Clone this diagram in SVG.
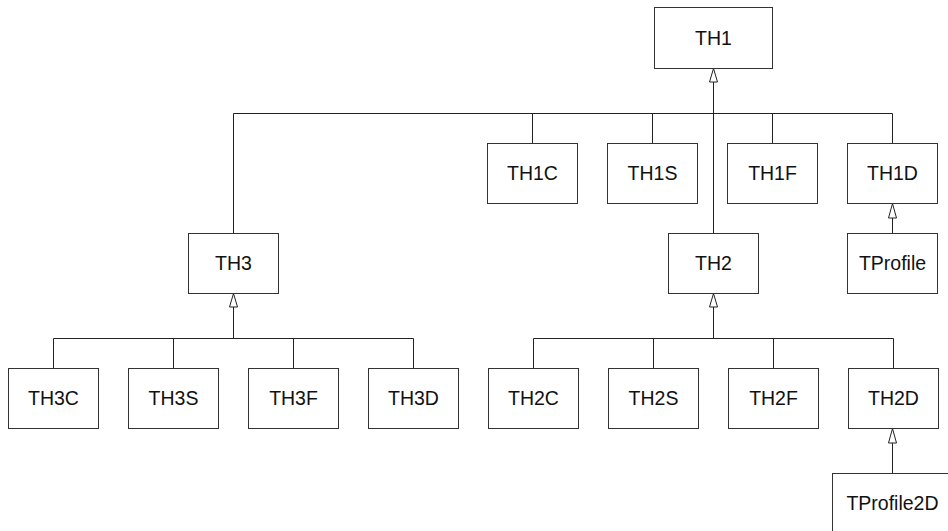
<svg xmlns="http://www.w3.org/2000/svg" width="948" height="531" viewBox="0 0 948 531">
<style>
.box{fill:#fff;stroke:#333;stroke-width:1}
.lbl{font-family:"Liberation Sans",Arial,sans-serif;font-size:19.5px;fill:#111;text-anchor:middle}
.ln{fill:none;stroke:#222;stroke-width:1}
.ah{fill:#fff;stroke:#222;stroke-width:1}
</style>
<rect width="948" height="531" fill="#fff"/>
<g id="connectors">
<path class="ln" d="M233.5 233V113.5H892.5V143"/>
<path class="ln" d="M532.5 113.5V143M652.5 113.5V143M772.5 113.5V143"/>
<path class="ln" d="M713.5 82V233"/>
<path class="ln" d="M892.5 218V233"/>
<path class="ln" d="M233.5 307V338.5M53.5 368V338.5H413.5V368M173.5 338.5V368M293.5 338.5V368"/>
<path class="ln" d="M713.5 307V338.5M533.5 368V338.5H893.5V368M653.5 338.5V368M773.5 338.5V368"/>
<path class="ln" d="M892.5 443V473"/>
<polygon class="ah" points="713.5,68.5 709.5,82 717.5,82"/>
<polygon class="ah" points="892.5,203.5 888.5,218 896.5,218"/>
<polygon class="ah" points="233.5,293.5 229.5,307 237.5,307"/>
<polygon class="ah" points="713.5,293.5 709.5,307 717.5,307"/>
<polygon class="ah" points="892.5,428.5 888.5,443 896.5,443"/>
</g>
<g id="TH1"><rect class="box" x="654.5" y="7.5" width="118" height="61"/><text class="lbl" x="713.5" y="44.5">TH1</text></g>
<g id="TH1C"><rect class="box" x="487.5" y="143.5" width="90" height="60"/><text class="lbl" x="532.5" y="180">TH1C</text></g>
<g id="TH1S"><rect class="box" x="607.5" y="143.5" width="90" height="60"/><text class="lbl" x="652.5" y="180">TH1S</text></g>
<g id="TH1F"><rect class="box" x="727.5" y="143.5" width="90" height="60"/><text class="lbl" x="772.5" y="180">TH1F</text></g>
<g id="TH1D"><rect class="box" x="847.5" y="143.5" width="90" height="60"/><text class="lbl" x="892.5" y="180">TH1D</text></g>
<g id="TH3"><rect class="box" x="188.5" y="233.5" width="90" height="60"/><text class="lbl" x="233.5" y="270">TH3</text></g>
<g id="TH2"><rect class="box" x="668.5" y="233.5" width="90" height="60"/><text class="lbl" x="713.5" y="270">TH2</text></g>
<g id="TProfile"><rect class="box" x="847.5" y="233.5" width="90" height="60"/><text class="lbl" x="892.5" y="270">TProfile</text></g>
<g id="TH3C"><rect class="box" x="8.5" y="368.5" width="90" height="60"/><text class="lbl" x="53.5" y="405">TH3C</text></g>
<g id="TH3S"><rect class="box" x="128.5" y="368.5" width="90" height="60"/><text class="lbl" x="173.5" y="405">TH3S</text></g>
<g id="TH3F"><rect class="box" x="248.5" y="368.5" width="90" height="60"/><text class="lbl" x="293.5" y="405">TH3F</text></g>
<g id="TH3D"><rect class="box" x="368.5" y="368.5" width="90" height="60"/><text class="lbl" x="413.5" y="405">TH3D</text></g>
<g id="TH2C"><rect class="box" x="488.5" y="368.5" width="90" height="60"/><text class="lbl" x="533.5" y="405">TH2C</text></g>
<g id="TH2S"><rect class="box" x="608.5" y="368.5" width="90" height="60"/><text class="lbl" x="653.5" y="405">TH2S</text></g>
<g id="TH2F"><rect class="box" x="728.5" y="368.5" width="90" height="60"/><text class="lbl" x="773.5" y="405">TH2F</text></g>
<g id="TH2D"><rect class="box" x="848.5" y="368.5" width="90" height="60"/><text class="lbl" x="893.5" y="405">TH2D</text></g>
<g id="TProfile2D"><rect class="box" x="832.5" y="473.5" width="120" height="60"/><text class="lbl" x="892.5" y="510">TProfile2D</text></g>
</svg>
